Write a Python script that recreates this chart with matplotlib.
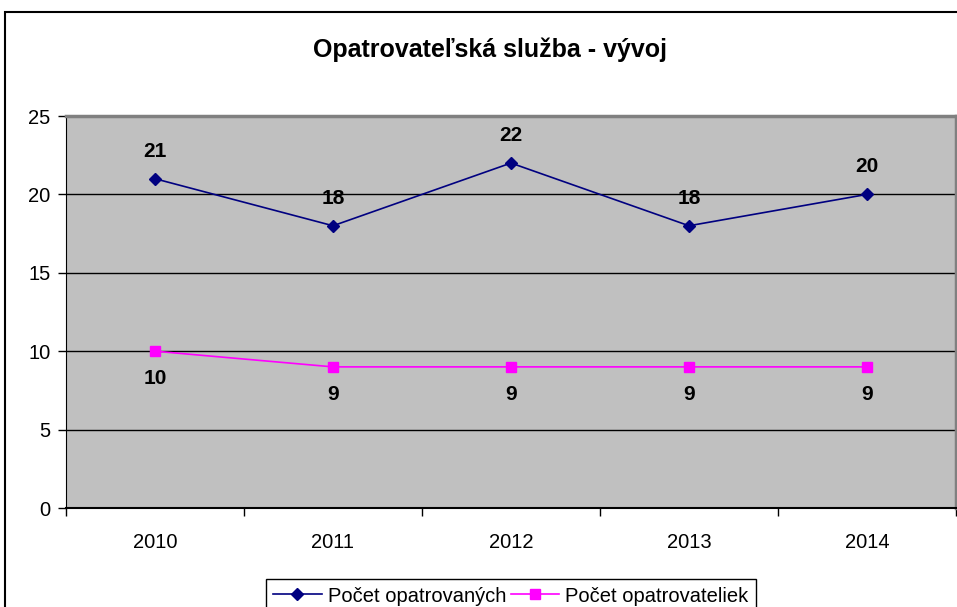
import matplotlib

matplotlib.use("Agg")
import matplotlib.pyplot as plt
from matplotlib.patches import Rectangle

years = ["2010", "2011", "2012", "2013", "2014"]
opatrovanych = [21, 18, 22, 18, 20]
opatrovateliek = [10, 9, 9, 9, 9]

plt.rcParams["font.family"] = ["Liberation Sans", "DejaVu Sans"]

W, H = 957, 607
fig = plt.figure(figsize=(W / 100, H / 100), dpi=100)

# outer chart border (runs off the right/bottom edge as in the original)
fig.patches.append(Rectangle((5 / W, -0.05), 1.1, 1 - 12 / H + 0.05,
                             transform=fig.transFigure, fill=False,
                             edgecolor="black", linewidth=1.5))

ax = fig.add_axes([66 / W, 1 - 508 / H, (956 - 66) / W, (508 - 116) / H])
ax.set_facecolor("#C0C0C0")

x = list(range(len(years)))
ax.plot(x, opatrovanych, color="#000080", marker="D", markersize=6.5,
        linewidth=1.2, label="Počet opatrovaných", zorder=3)
ax.plot(x, opatrovateliek, color="#FF00FF", marker="s", markersize=7,
        linewidth=1.2, label="Počet opatrovateliek", zorder=3)

for xi, v in zip(x, opatrovanych):
    ax.annotate(str(v), (xi, v), xytext=(0, 13), textcoords="offset points",
                ha="center", va="bottom", fontsize=15, fontweight="bold")
for xi, v in zip(x, opatrovateliek):
    ax.annotate(str(v), (xi, v), xytext=(0, -13), textcoords="offset points",
                ha="center", va="top", fontsize=15, fontweight="bold")

ax.set_xlim(-0.5, len(years) - 0.5)
ax.set_ylim(0, 25)
ax.set_yticks([0, 5, 10, 15, 20, 25])
ax.yaxis.grid(True, color="black", linewidth=1)
ax.set_axisbelow(True)

ax.set_xticks(x)
ax.set_xticklabels(years)
ax.set_xticks([i - 0.5 for i in range(len(years) + 1)], minor=True)
ax.tick_params(axis="x", which="major", length=0, pad=18, labelsize=14.5)
ax.tick_params(axis="x", which="minor", length=6, width=1, direction="out")
ax.tick_params(axis="y", length=6, width=1, direction="out", labelsize=14.5, pad=5)

ax.spines["left"].set_color("black")
ax.spines["bottom"].set_color("black")
ax.spines["bottom"].set_linewidth(1.5)
ax.spines["top"].set_color("#808080")
ax.spines["top"].set_linewidth(2.5)
ax.spines["right"].set_color("#808080")
ax.spines["right"].set_linewidth(2.5)

fig.text(490 / W, 1 - 50 / H, "Opatrovateľská služba - vývoj", ha="center",
         va="center", fontsize=18, fontweight="bold")

leg = fig.legend(loc="center", bbox_to_anchor=(511 / W, 1 - 596 / H),
                 ncol=2, fontsize=14.5, frameon=True, fancybox=False,
                 edgecolor="black", framealpha=1, handlelength=2.4,
                 handletextpad=0.3, columnspacing=0.25, borderpad=0.35)
leg.get_frame().set_linewidth(1)

fig.savefig("out.png", dpi=100)
